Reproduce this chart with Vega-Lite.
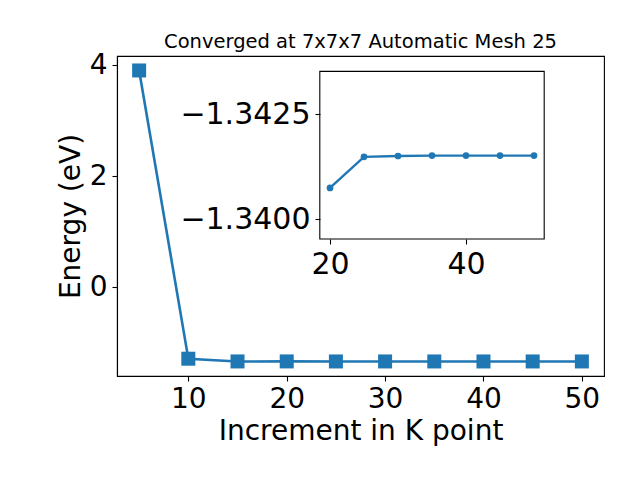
{
  "$schema": "https://vega.github.io/schema/vega-lite/v6.json",
  "width": 487,
  "height": 320,
  "autosize": {"type": "none"},
  "padding": {"left": 117, "top": 56, "right": 36, "bottom": 104},
  "background": "white",
  "config": {
    "font": "DejaVu Sans",
    "view": {"stroke": "black", "strokeWidth": 1.1},
    "axis": {
      "grid": false,
      "domainColor": "black",
      "domainWidth": 1.1,
      "tickColor": "black",
      "tickWidth": 1.1,
      "tickSize": 5,
      "labelColor": "black",
      "titleColor": "black",
      "labelFont": "DejaVu Sans",
      "titleFont": "DejaVu Sans",
      "titleFontWeight": "normal",
      "labelFlush": false,
      "labelOverlap": false
    }
  },
  "title": {
    "text": "Converged at 7x7x7 Automatic Mesh 25",
    "font": "DejaVu Sans",
    "fontSize": 19.5,
    "fontWeight": "normal",
    "color": "black",
    "anchor": "middle",
    "frame": "group",
    "baseline": "alphabetic",
    "offset": -16
  },
  "data": {
    "values": [
      {"k": 5, "energy": 3.909},
      {"k": 10, "energy": -1.292},
      {"k": 15, "energy": -1.3412},
      {"k": 20, "energy": -1.34074},
      {"k": 25, "energy": -1.34148},
      {"k": 30, "energy": -1.3415},
      {"k": 35, "energy": -1.34151},
      {"k": 40, "energy": -1.34151},
      {"k": 45, "energy": -1.34151},
      {"k": 50, "energy": -1.34151}
    ]
  },
  "layer": [
    {
      "layer": [
        {
          "mark": {"type": "line", "color": "#1f77b4", "strokeWidth": 2.6},
          "encoding": {
            "x": {
              "field": "k", "type": "quantitative",
              "scale": {"domain": [2.75, 52.25], "nice": false, "zero": false},
              "axis": {"orient": "bottom", "values": [10, 20, 30, 40, 50], "title": "Increment in K point", "labelFontSize": 28, "titleFontSize": 28, "labelPadding": 4, "titlePadding": 4}
            },
            "y": {
              "field": "energy", "type": "quantitative",
              "scale": {"domain": [-1.604, 4.17], "nice": false, "zero": false},
              "axis": {"orient": "left", "values": [0, 2, 4], "title": "Energy (eV)", "labelFontSize": 28, "titleFontSize": 28, "labelPadding": 5, "titlePadding": 4}
            }
          }
        },
        {
          "mark": {"type": "point", "shape": "square", "filled": true, "size": 196, "color": "#1f77b4", "opacity": 1},
          "encoding": {
            "x": {"field": "k", "type": "quantitative", "scale": {"domain": [2.75, 52.25], "nice": false, "zero": false}},
            "y": {"field": "energy", "type": "quantitative", "scale": {"domain": [-1.604, 4.17], "nice": false, "zero": false}}
          }
        }
      ]
    },
    {
      "layer": [
        {
          "data": {"values": [{}]},
          "mark": {"type": "rect", "fill": "white", "stroke": "black", "strokeWidth": 1.1},
          "encoding": {
            "x": {
              "datum": 18.5, "type": "quantitative",
              "scale": {"domain": [-11.324, 60.294], "nice": false, "zero": false},
              "axis": {"orient": "bottom", "offset": -137, "values": [20, 40], "domain": false, "title": null, "labelFontSize": 30, "labelPadding": 5, "zindex": 1}
            },
            "x2": {"datum": 51.5},
            "y": {
              "datum": -1.343514, "type": "quantitative",
              "scale": {"domain": [-1.343881, -1.336262], "reverse": true, "nice": false, "zero": false},
              "axis": {"orient": "left", "offset": -203, "values": [-1.3425, -1.34], "domain": false, "title": null, "labelFontSize": 30, "labelPadding": 5, "zindex": 1, "labelExpr": "replace(format(datum.value, '.4f'), '-', '\u2212')"}
            },
            "y2": {"datum": -1.339524}
          }
        },
        {
          "transform": [{"filter": "datum.k >= 20"}],
          "mark": {"type": "line", "color": "#1f77b4", "strokeWidth": 2.4},
          "encoding": {
            "x": {"field": "k", "type": "quantitative", "scale": {"domain": [-11.324, 60.294], "nice": false, "zero": false}},
            "y": {"field": "energy", "type": "quantitative", "scale": {"domain": [-1.343881, -1.336262], "reverse": true, "nice": false, "zero": false}}
          }
        },
        {
          "transform": [{"filter": "datum.k >= 20"}],
          "mark": {"type": "point", "shape": "circle", "filled": true, "size": 45, "color": "#1f77b4", "opacity": 1},
          "encoding": {
            "x": {"field": "k", "type": "quantitative", "scale": {"domain": [-11.324, 60.294], "nice": false, "zero": false}},
            "y": {"field": "energy", "type": "quantitative", "scale": {"domain": [-1.343881, -1.336262], "reverse": true, "nice": false, "zero": false}}
          }
        }
      ]
    }
  ],
  "resolve": {
    "scale": {"x": "independent", "y": "independent"},
    "axis": {"x": "independent", "y": "independent"}
  }
}
